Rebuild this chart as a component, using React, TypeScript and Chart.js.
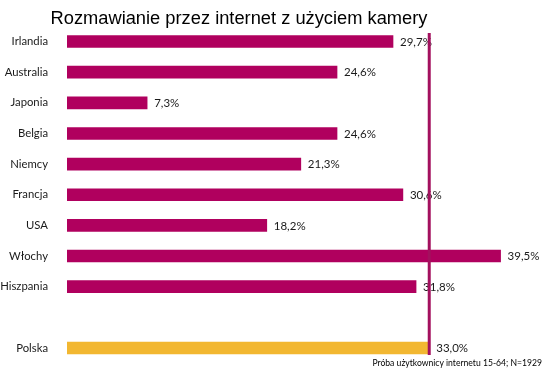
import React, { useEffect, useRef } from "react";
import { Chart, registerables } from "chart.js";

Chart.register(...registerables);

const categories = ["Irlandia", "Australia", "Japonia", "Belgia", "Niemcy", "Francja", "USA", "Włochy", "Hiszpania", "", "Polska"];
const values: (number | null)[] = [29.7, 24.6, 7.3, 24.6, 21.3, 30.6, 18.2, 39.5, 31.8, null, 33.0];
const referenceValue = 33.0;
const titleText = "Rozmawianie przez internet z użyciem kamery";
const noteText = "Próba użytkownicy internetu 15-64; N=1929";

const MAGENTA = "#B0005E";
const GOLD = "#F2B731";
const LINE = "#A3105E";

export default function App() {
  const ref = useRef<HTMLCanvasElement>(null);
  useEffect(() => {
    document.body.style.margin = "0";
    const ctx = ref.current!.getContext("2d")!;
    const overlay = {
      id: "overlay",
      afterDatasetsDraw(chart: any) {
        const c = chart.ctx;
        const meta = chart.getDatasetMeta(0);
        const xs = chart.scales.x;
        c.save();
        c.font = "11.5px Lato";
        c.fillStyle = "#1a1a1a";
        c.textBaseline = "middle";
        c.textAlign = "left";
        meta.data.forEach((bar: any, i: number) => {
          const v = values[i];
          if (v == null) return;
          c.fillText(v.toFixed(1).replace(".", ",") + "%", bar.x + 7, bar.y + 0.5);
        });
        // reference line
        const lx = xs.getPixelForValue(referenceValue);
        c.strokeStyle = LINE;
        c.lineWidth = 3;
        c.beginPath();
        c.moveTo(lx, 33);
        c.lineTo(lx, 355);
        c.stroke();
        // title
        c.font = "18.3px 'Liberation Sans'";
        c.fillStyle = "#000";
        c.textAlign = "center";
        c.textBaseline = "alphabetic";
        c.fillText(titleText, 239, 23.5);
        // note
        c.font = "8.6px Lato";
        c.textAlign = "right";
        c.fillText(noteText, 542, 366);
        c.restore();
      },
    };
    const chart = new Chart(ctx, {
      type: "bar",
      data: {
        labels: categories,
        datasets: [
          {
            data: values,
            backgroundColor: values.map((_, i) => (i === values.length - 1 ? GOLD : MAGENTA)),
            barThickness: 12,
          },
        ],
      },
      options: {
        indexAxis: "y",
        animation: false,
        responsive: false,
        layout: { padding: { top: 26.2, bottom: 9.7, left: 0, right: 7 } },
        plugins: { legend: { display: false }, tooltip: { enabled: false }, title: { display: false } },
        scales: {
          x: { display: false, min: 0, max: 43 },
          y: {
            grid: { display: false },
            border: { display: false },
            ticks: { color: "#1a1a1a", font: { family: "Lato", size: 11.3 }, padding: 11 },
            afterFit(scale: any) {
              scale.width = 67;
              scale.paddingTop = 0;
              scale.paddingBottom = 0;
            },
          },
        },
      },
      plugins: [overlay],
    });
    return () => chart.destroy();
  }, []);
  return (
    <div style={{ position: "absolute", left: 0, top: 0, width: 546, height: 373 }}>
      <canvas ref={ref} width={546} height={373} />
    </div>
  );
}
